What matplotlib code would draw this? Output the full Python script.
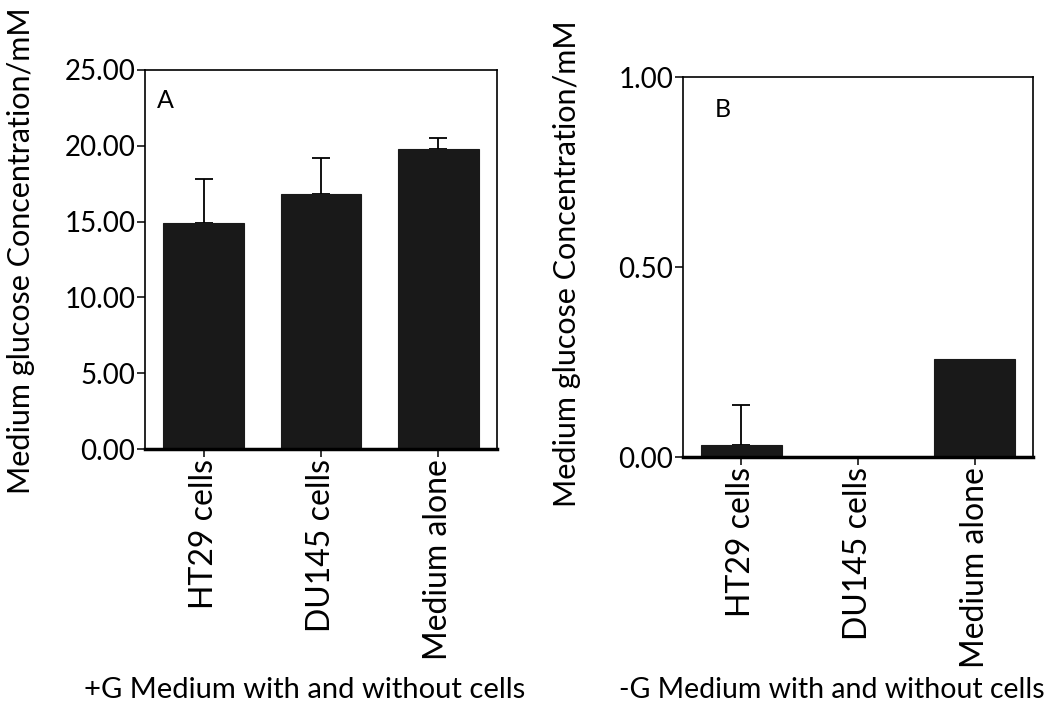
import matplotlib
matplotlib.use("Agg")
import matplotlib.pyplot as plt

plt.rcParams["font.family"] = ["Lato", "DejaVu Sans"]

categories = ["HT29 cells", "DU145 cells", "Medium alone"]

# panel A: +G medium
values_a = [14.9, 16.8, 19.8]
errors_a = [2.9, 2.4, 0.7]
yticks_a = [0.0, 5.0, 10.0, 15.0, 20.0, 25.0]

# panel B: -G medium
values_b = [0.032, 0.0, 0.258]
errors_b = [0.105, 0.0, 0.0]
yticks_b = [0.0, 0.5, 1.0]

ylabel = "Medium glucose Concentration/mM"
xlabel_a = "+G Medium with and without cells"
xlabel_b = "-G Medium with and without cells"


def draw_panel(ax, values, errors, yticks, letter, letter_xy):
    x = list(range(len(categories)))
    ax.bar(x, values, width=0.69, color="#191919", edgecolor="#191919",
           linewidth=0.8, zorder=2)
    # only the upper half of each error bar is shown, none where it is zero
    ex = [i for i, e in zip(x, errors) if e > 0]
    ev = [v for v, e in zip(values, errors) if e > 0]
    ee = [e for e in errors if e > 0]
    ax.errorbar(ex, ev, yerr=[[0] * len(ee), ee], fmt="none",
                ecolor="black", elinewidth=1.3, capsize=6.5, capthick=1.3,
                zorder=1)
    ax.set_xlim(-0.5, 2.5)
    ax.set_ylim(yticks[0], yticks[-1])
    ax.set_yticks(yticks)
    ax.set_yticklabels([f"{t:.2f}" for t in yticks], fontsize=20)
    ax.set_xticks(x)
    ax.set_xticklabels(categories, rotation=90, fontsize=23)
    for side in ["left", "top", "right"]:
        ax.spines[side].set_linewidth(1.2)
    ax.spines["bottom"].set_linewidth(2.5)
    ax.tick_params(axis="both", direction="out", length=6, width=1.1, pad=1)
    ax.text(letter_xy[0], letter_xy[1], letter, transform=ax.transAxes,
            fontsize=18, ha="left", va="center")


fig = plt.figure(figsize=(10.5, 7.08), dpi=100)
ax_a = fig.add_axes([145 / 1050, 1 - 449 / 708, 352 / 1050, 379 / 708])
ax_b = fig.add_axes([683 / 1050, 1 - 457 / 708, 350 / 1050, 380 / 708])

draw_panel(ax_a, values_a, errors_a, yticks_a, "A", (0.035, 0.92))
draw_panel(ax_b, values_b, errors_b, yticks_b, "B", (0.09, 0.915))

fig.text(21 / 1050, 1 - 251 / 708, ylabel, rotation=90, fontsize=22,
         ha="center", va="center")
fig.text(567 / 1050, 1 - 264 / 708, ylabel, rotation=90, fontsize=22,
         ha="center", va="center")
fig.text(305 / 1050, 1 - 690 / 708, xlabel_a, fontsize=21,
         ha="center", va="center")
fig.text(832 / 1050, 1 - 690 / 708, xlabel_b, fontsize=20.5,
         ha="center", va="center")

fig.savefig("out.png", dpi=100)
